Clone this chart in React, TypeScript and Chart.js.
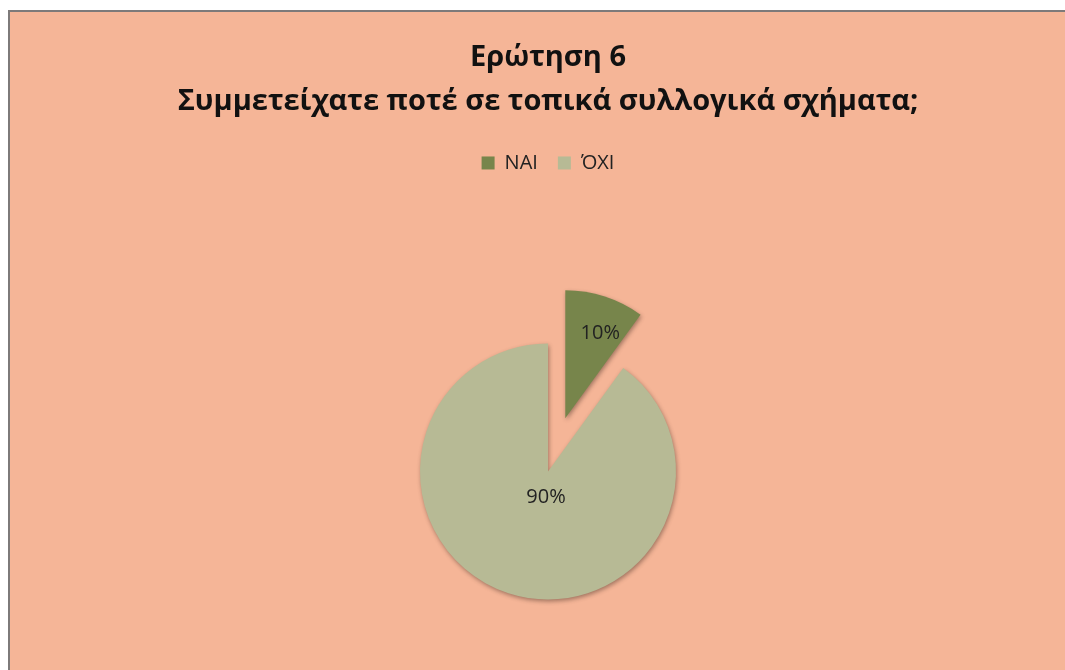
import React, { useEffect, useRef } from 'react';
import { Chart, registerables, ArcElement, PieController } from 'chart.js';

// ---- data ----
const titleLines: string[] = ['Ερώτηση 6', 'Συμμετείχατε ποτέ σε τοπικά συλλογικά σχήματα;'];
const categories: string[] = ['NAI', 'ΌΧΙ'];
const values: number[] = [10, 90];

// ---- styles ----
const sliceColors = ['#77854b', '#b7ba95'];
const sliceExplode = [56, 0];
const labelRadialFraction = [0.72, 0.2];
const labelAngleFraction = [0.62, 0.458];
const pageBg = '#f5b597';
const FONT = '"Open Sans", "Noto Sans", "DejaVu Sans", sans-serif';
const VIEW_W = 1065;
const VIEW_H = 670;
const CANVAS_H = 760; // taller than the view so the pie sits low, as in the reference

class ExplodedArc extends ArcElement {
  static id = 'explodedArc';
  draw(ctx: CanvasRenderingContext2D) {
    const self: any = this;
    const idx = self.$context?.dataIndex ?? 0;
    const d = sliceExplode[idx] || 0;
    const mid = (self.startAngle + self.endAngle) / 2;
    ctx.save();
    ctx.translate(Math.cos(mid) * d, Math.sin(mid) * d);
    ctx.shadowColor = 'rgba(60,40,30,0.45)';
    ctx.shadowBlur = 4;
    ctx.shadowOffsetX = 1;
    ctx.shadowOffsetY = 2;
    super.draw(ctx);
    ctx.restore();
  }
}

class ExplodedPie extends PieController {
  static id = 'explodedPie';
  static defaults = { ...(PieController as any).defaults, dataElementType: 'explodedArc' };
}

Chart.register(...registerables, ExplodedArc, ExplodedPie);

const backgroundPlugin = {
  id: 'pageBackground',
  beforeDraw(chart: any) {
    const { ctx, width, height } = chart;
    ctx.save();
    ctx.fillStyle = '#ffffff';
    ctx.fillRect(0, 0, width, height);
    ctx.fillStyle = pageBg;
    ctx.fillRect(10, 12, width - 10, height - 12);
    ctx.strokeStyle = '#7d7a7a';
    ctx.lineWidth = 2;
    ctx.beginPath();
    ctx.moveTo(9, height);
    ctx.lineTo(9, 11);
    ctx.lineTo(width, 11);
    ctx.stroke();
    ctx.restore();
  },
};

const sliceLabelPlugin = {
  id: 'sliceLabels',
  afterDatasetsDraw(chart: any) {
    const { ctx } = chart;
    const meta = chart.getDatasetMeta(0);
    const data = chart.data.datasets[0].data as number[];
    const total = data.reduce((a, b) => a + b, 0);
    ctx.save();
    ctx.font = `20px ${FONT}`;
    ctx.fillStyle = '#222222';
    ctx.textAlign = 'center';
    ctx.textBaseline = 'middle';
    meta.data.forEach((arc: any, i: number) => {
      const { x, y, startAngle, endAngle, outerRadius } = arc.getProps(
        ['x', 'y', 'startAngle', 'endAngle', 'outerRadius'],
        true
      );
      const mid = (startAngle + endAngle) / 2;
      const d = sliceExplode[i] || 0;
      const ax = x + Math.cos(mid) * d;
      const ay = y + Math.sin(mid) * d;
      const ang = startAngle + (endAngle - startAngle) * labelAngleFraction[i];
      const r = labelRadialFraction[i] * outerRadius;
      const pct = Math.round((data[i] / total) * 100) + '%';
      ctx.fillText(pct, ax + Math.cos(ang) * r, ay + Math.sin(ang) * r);
    });
    ctx.restore();
  },
};

export default function App() {
  const canvasRef = useRef<HTMLCanvasElement | null>(null);

  useEffect(() => {
    const canvas = canvasRef.current;
    if (!canvas) return;
    const chart = new Chart(canvas, {
      type: 'explodedPie' as any,
      data: {
        labels: categories,
        datasets: [
          {
            data: values,
            backgroundColor: sliceColors,
            borderWidth: 0,
          },
        ],
      },
      options: {
        responsive: false,
        animation: false,
        radius: 128,
        layout: { padding: { left: 31, right: 0, top: 0, bottom: 0 } },
        plugins: {
          title: {
            display: true,
            text: titleLines,
            color: '#111111',
            font: { family: FONT, size: 29, weight: 'bold', lineHeight: 1.534 },
            padding: { top: 35, bottom: 9 },
          },
          legend: {
            display: true,
            position: 'top',
            labels: {
              boxWidth: 13,
              boxHeight: 13,
              padding: 20,
              color: '#222222',
              font: { family: FONT, size: 20 },
            },
          },
          tooltip: { enabled: false },
        },
      } as any,
      plugins: [backgroundPlugin, sliceLabelPlugin],
    });
    return () => chart.destroy();
  }, []);

  return (
    <div style={{ position: 'fixed', left: 0, top: 0, width: VIEW_W, height: VIEW_H, overflow: 'hidden' }}>
      <canvas ref={canvasRef} width={VIEW_W} height={CANVAS_H} style={{ display: 'block' }} />
    </div>
  );
}
